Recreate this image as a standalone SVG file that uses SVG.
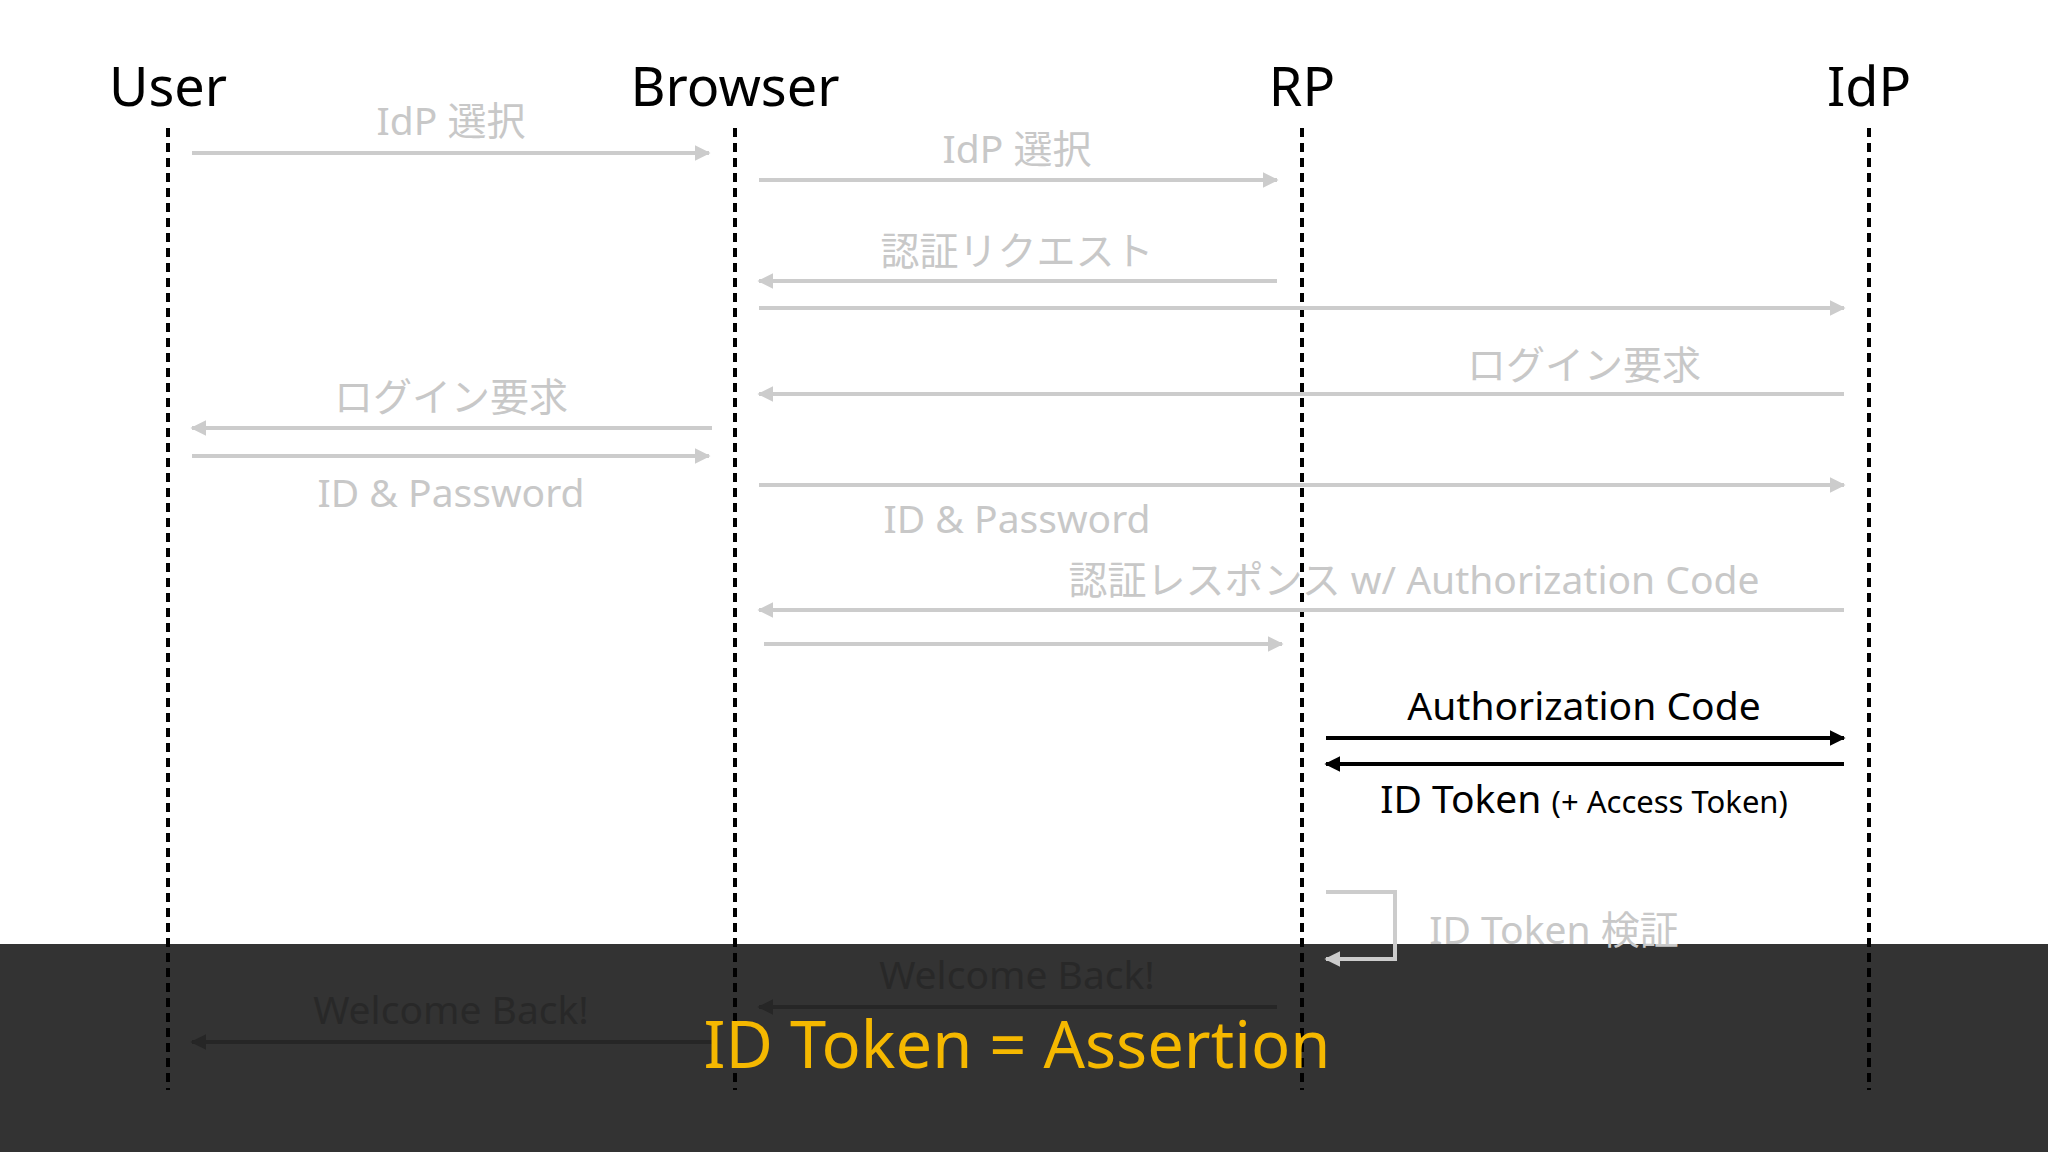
<svg xmlns="http://www.w3.org/2000/svg" width="2048" height="1152" viewBox="0 0 2048 1152">
<defs>
<marker id="ag" viewBox="0 0 10 10" refX="9" refY="5" markerWidth="4" markerHeight="4" orient="auto-start-reverse"><path d="M0,0L10,5L0,10z" fill="#cccccc"/></marker>
<marker id="ab" viewBox="0 0 10 10" refX="9" refY="5" markerWidth="4" markerHeight="4" orient="auto-start-reverse"><path d="M0,0L10,5L0,10z" fill="#000"/></marker>
<marker id="ad" viewBox="0 0 10 10" refX="9" refY="5" markerWidth="4" markerHeight="4" orient="auto-start-reverse"><path d="M0,0L10,5L0,10z" fill="#262626"/></marker>
</defs>
<style>
text{font-family:"Noto Sans","Noto Sans CJK JP",sans-serif;text-anchor:middle}
.h{font-size:54px;fill:#000}
.g{font-size:39px;fill:#c8c8c8}
.k{font-size:39px;fill:#000}
.d{font-size:39px;fill:#282828}
.lg{stroke:#cccccc;stroke-width:4;fill:none;marker-end:url(#ag)}
.lb{stroke:#000;stroke-width:4;fill:none;marker-end:url(#ab)}
.ld{stroke:#262626;stroke-width:4;fill:none;marker-end:url(#ad)}
.life{stroke:#000;stroke-width:4;stroke-dasharray:9,6}
</style>
<rect width="2048" height="1152" fill="#fff"/>
<rect y="944" width="2048" height="208" fill="#333333"/>
<g id="user"><text class="h" x="168" y="106">User</text><line class="life" x1="168" y1="128" x2="168" y2="1090"/></g>
<g id="browser"><text class="h" x="735" y="106">Browser</text><line class="life" x1="735" y1="128" x2="735" y2="1090"/></g>
<g id="rp"><text class="h" x="1302" y="106">RP</text><line class="life" x1="1302" y1="128" x2="1302" y2="1090"/></g>
<g id="idp"><text class="h" x="1869" y="106">IdP</text><line class="life" x1="1869" y1="128" x2="1869" y2="1090"/></g>
<g id="connectors">
<line class="lg" x1="192" y1="153" x2="709" y2="153"/><text class="g" x="451" y="135">IdP 選択</text>
<line class="lg" x1="759" y1="180" x2="1277" y2="180"/><text class="g" x="1017" y="163">IdP 選択</text>
<line class="lg" x1="1277" y1="281" x2="759" y2="281"/><text class="g" x="1017" y="265">認証リクエスト</text>
<line class="lg" x1="759" y1="308" x2="1844" y2="308"/>
<line class="lg" x1="1844" y1="394" x2="759" y2="394"/><text class="g" x="1584" y="379">ログイン要求</text>
<line class="lg" x1="712" y1="428" x2="192" y2="428"/><text class="g" x="451" y="411">ログイン要求</text>
<line class="lg" x1="192" y1="456" x2="709" y2="456"/><text class="g" x="451" y="507">ID &amp; Password</text>
<line class="lg" x1="759" y1="485" x2="1844" y2="485"/><text class="g" x="1017" y="533">ID &amp; Password</text>
<line class="lg" x1="1844" y1="610" x2="759" y2="610"/><text class="g" x="1414" y="594">認証レスポンス w/ Authorization Code</text>
<line class="lg" x1="764" y1="644" x2="1282" y2="644"/>
<line class="lb" x1="1326" y1="738" x2="1844" y2="738"/><text class="k" x="1584" y="720">Authorization Code</text>
<line class="lb" x1="1844" y1="764" x2="1326" y2="764"/><text class="k" x="1584" y="813">ID Token <tspan font-size="31">(+ Access Token)</tspan></text>
<path class="lg" d="M1326,892H1395V959H1326"/><text class="g" x="1554" y="944">ID Token 検証</text>
<line class="ld" x1="1277" y1="1007" x2="759" y2="1007"/><text class="d" x="1017" y="989">Welcome Back!</text>
<line class="ld" x1="712" y1="1042" x2="192" y2="1042"/><text class="d" x="451" y="1024">Welcome Back!</text>
</g>
<text x="1017" y="1068" font-size="65" fill="#f5b800">ID Token = Assertion</text>
</svg>
